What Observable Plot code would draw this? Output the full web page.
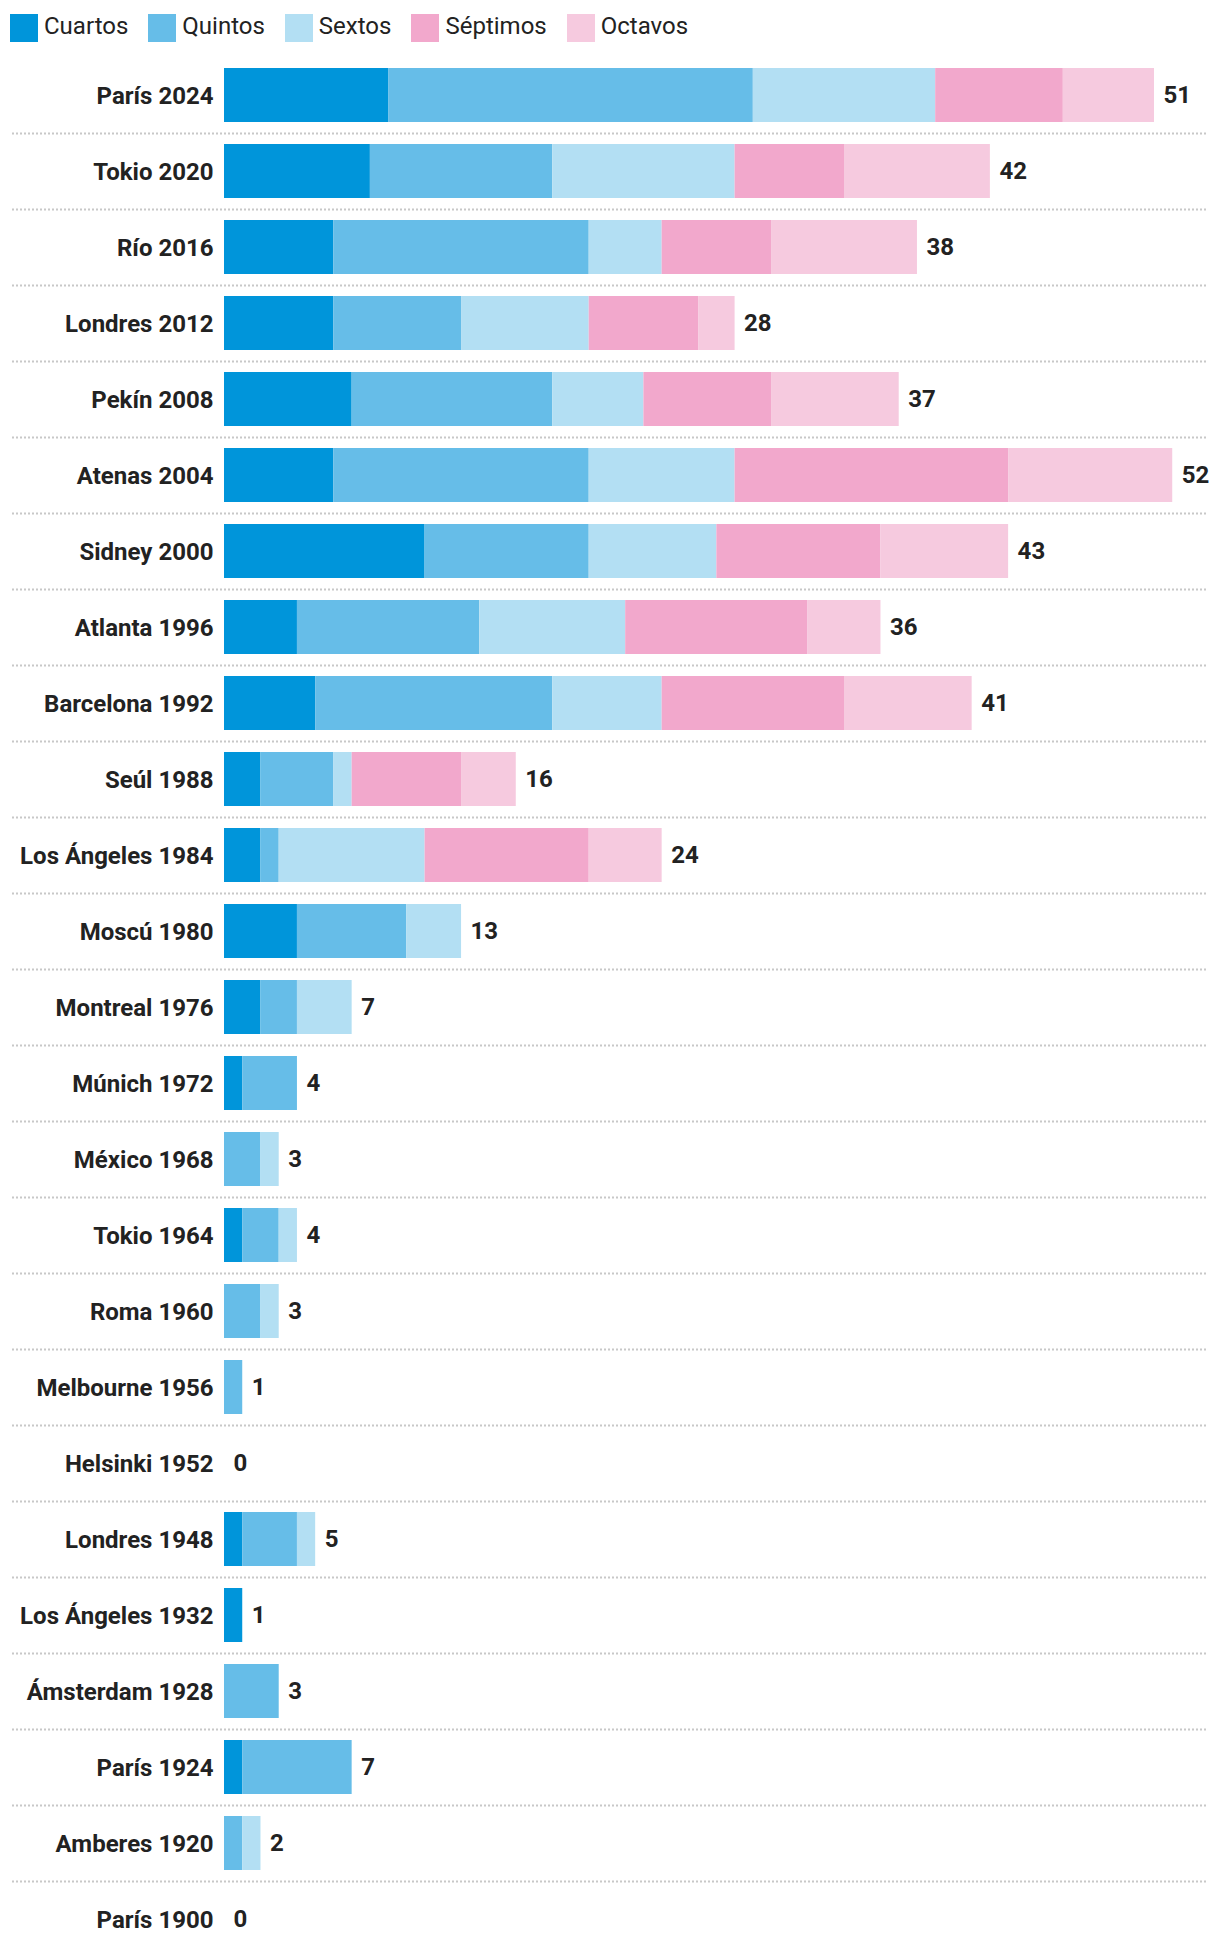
<!DOCTYPE html>
<html>
<head>
<meta charset="utf-8">
<script src="https://cdn.jsdelivr.net/npm/d3@7"></script>
<script src="https://cdn.jsdelivr.net/npm/@observablehq/plot@0.6"></script>
<style>
  body { margin: 0; background: #fff; font-family: Roboto, sans-serif; color: #222; }
  #legend { height: 57px; box-sizing: border-box; padding: 14px 0 0 10px; display: flex; align-items: flex-start; }
  .item { display: flex; align-items: center; margin-right: 20px; font-size: 24px; line-height: 28px; }
  .sw { width: 28px; height: 28px; margin-right: 6px; }
  .lab { position: relative; top: -2px; }
  #chart svg { display: block; }
</style>
</head>
<body>
<div id="legend"></div>
<div id="chart"></div>
<script>
const games = ["París 2024","Tokio 2020","Río 2016","Londres 2012","Pekín 2008","Atenas 2004","Sidney 2000","Atlanta 1996","Barcelona 1992","Seúl 1988","Los Ángeles 1984","Moscú 1980","Montreal 1976","Múnich 1972","México 1968","Tokio 1964","Roma 1960","Melbourne 1956","Helsinki 1952","Londres 1948","Los Ángeles 1932","Ámsterdam 1928","París 1924","Amberes 1920","París 1900"];
const places = ["Cuartos","Quintos","Sextos","Séptimos","Octavos"];
const colors = ["#0095da","#66bde8","#b3dff3","#f2a8cc","#f6cadf"];
const cuartos  = [9,8,6,6,7,6,11,4,5,2,2,4,2,1,0,1,0,0,0,1,1,0,1,0,0];
const quintos  = [20,10,14,7,11,14,9,10,13,4,1,6,2,3,2,2,2,1,0,3,0,3,6,1,0];
const sextos   = [10,10,4,7,5,8,7,8,6,1,8,3,3,0,1,1,1,0,0,1,0,0,0,1,0];
const septimos = [7,6,6,6,7,15,9,10,10,6,9,0,0,0,0,0,0,0,0,0,0,0,0,0,0];
const octavos  = [5,8,8,2,7,9,7,4,7,3,4,0,0,0,0,0,0,0,0,0,0,0,0,0,0];
const series = [cuartos, quintos, sextos, septimos, octavos];

const long = games.flatMap((g, i) => places.map((p, j) => ({game: g, place: p, value: series[j][i]}))).filter(d => d.value > 0);
const totals = games.map((g, i) => ({game: g, total: d3.sum(series, s => s[i])}));

// legend
const leg = d3.select("#legend");
places.forEach((p, i) => {
  const it = leg.append("div").attr("class", "item");
  it.append("div").attr("class", "sw").style("background", colors[i]);
  it.append("span").attr("class", "lab").text(p);
});

const chart = Plot.plot({
  width: 1220,
  height: 1900,
  marginTop: 0,
  marginBottom: 0,
  marginLeft: 12,
  marginRight: 12,
  x: {domain: [0, 52], range: [224, 224 + 52 * 930 / 51], axis: null},
  y: {domain: games, range: [0, 1900], paddingInner: 0.29, paddingOuter: 0.145, axis: null},
  color: {domain: places, range: colors},
  style: {fontFamily: "Roboto, sans-serif", background: "#fff"},
  marks: [
    Plot.ruleY(games.slice(0, -1), {y: d => d, dy: 38, stroke: "#c8c8c8", strokeWidth: 2, strokeDasharray: "2,2"}),
    Plot.barX(long, {x: "value", y: "game", fill: "place", order: places}),
    Plot.text(games, {x: d => 0, y: d => d, text: d => d, textAnchor: "end", dx: -11, dy: 1, fontSize: 24, fontWeight: 700, fill: "#222"}),
    Plot.text(totals, {x: "total", y: "game", text: d => String(d.total), textAnchor: "start", dx: 9, fontSize: 24, fontWeight: 700, fill: "#222"})
  ]
});
document.getElementById("chart").appendChild(chart);
</script>
</body>
</html>
